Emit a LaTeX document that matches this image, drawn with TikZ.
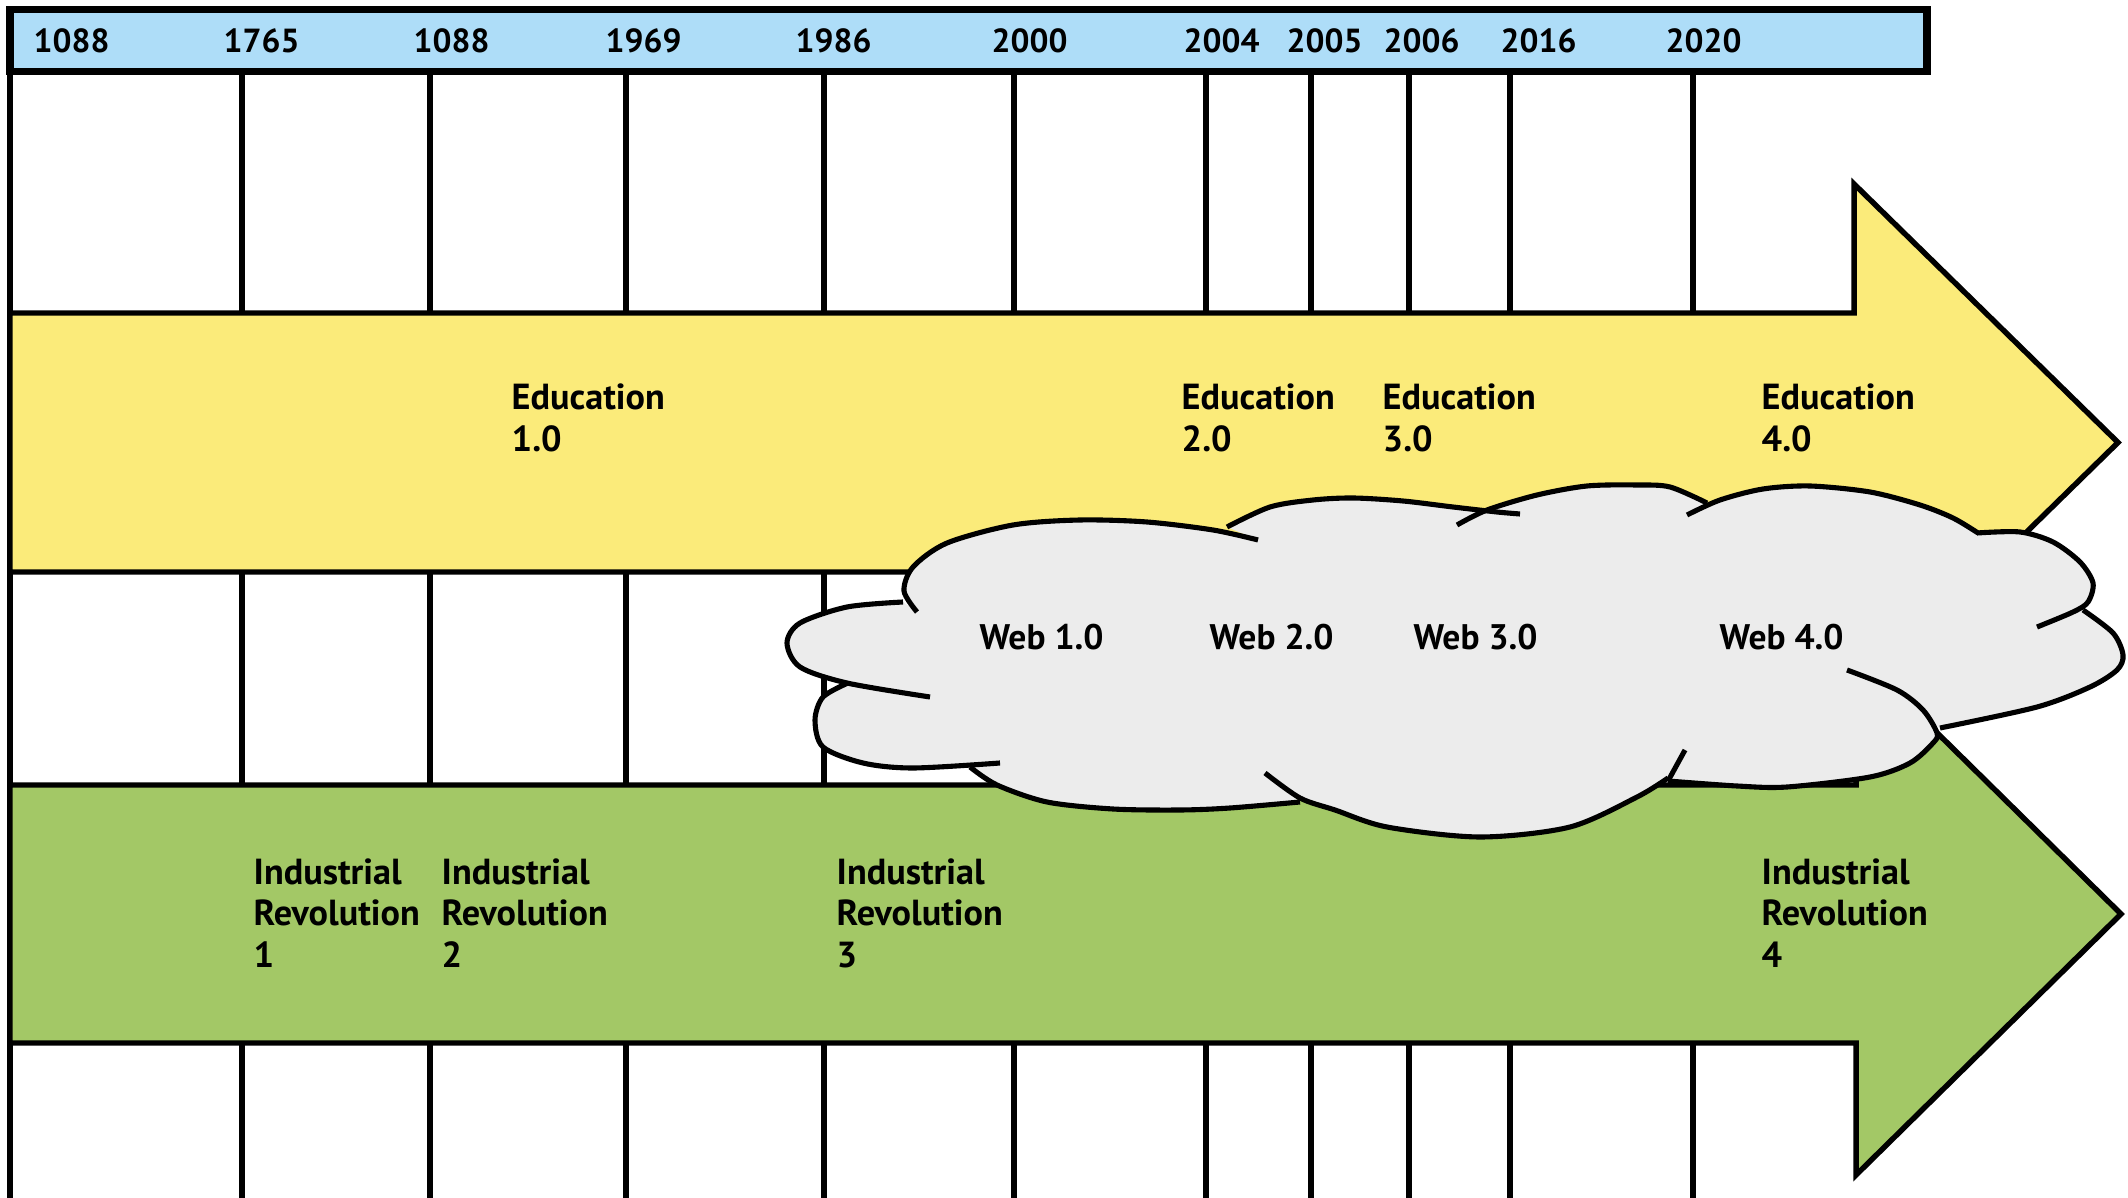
\documentclass[tikz,border=0pt]{standalone}
\usepackage{fontspec}
\setmainfont{PT Sans}
\definecolor{hdrblue}{RGB}{174,221,248}
\definecolor{eduyellow}{RGB}{251,235,122}
\definecolor{indgreen}{RGB}{163,200,102}
\definecolor{cloudgrey}{RGB}{236,236,236}
\newcommand\twolines[2]{\vtop{\baselineskip=11.86pt\lineskiplimit=-20pt\hbox{#1}\hbox{#2}}}
\newcommand\threelines[3]{\vtop{\baselineskip=11.86pt\lineskiplimit=-20pt\hbox{#1}\hbox{#2}\hbox{#3}}}
\begin{document}
\begin{tikzpicture}[x=0.01cm,y=-0.01cm,
  vline/.style={line width=1.55pt},
  arrowshape/.style={line width=1.55pt, line join=miter},
  cloudline/.style={line width=1.45pt, line cap=butt},
  yearlbl/.style={anchor=base west, inner sep=0pt, font=\fontsize{9.5}{11.86}\selectfont\bfseries},
  lbl/.style={anchor=base west, inner sep=0pt, font=\fontsize{10.3}{11.86}\selectfont\bfseries},
  weblbl/.style={anchor=base west, inner sep=0pt, font=\fontsize{10.1}{11.86}\selectfont\bfseries},
]
\useasboundingbox (0,0) rectangle (2128,1198);
% grid lines
\foreach \x in {242,430,626,824,1014,1206,1311,1409,1510,1693}
  \draw[vline] (\x,72) -- (\x,1198);
\draw[vline] (10,72) -- (10,1198);
% header
\draw[fill=hdrblue, line width=2.1pt] (10,9.5) rectangle (1927,71.5);
% arrows
\draw[arrowshape, fill=eduyellow] (10,313) -- (1854,313) -- (1854,184) -- (2118,442.5)
  -- (1854,701) -- (1854,572) -- (10,572) -- cycle;
\draw[arrowshape, fill=indgreen] (10,785) -- (1856,785) -- (1856,653) -- (2121,914)
  -- (1856,1175) -- (1856,1043) -- (10,1043) -- cycle;
% cloud fill (one path)
\fill[cloudgrey]
  plot[smooth] coordinates {(903,602) (847,607) (800,623) (787,643) (800,667) (847,683) (930,697)}
  -- plot[smooth] coordinates {(848,683) (823,697) (815,720) (823,747) (863,763) (913,768) (1000,763)}
  -- plot[smooth] coordinates {(970,767) (997,785) (1047,802) (1113,809) (1180,810) (1230,808) (1300,802)}
  -- plot[smooth] coordinates {(1265,773) (1300,798) (1335,810) (1387,827) (1480,837) (1570,827) (1637,797) (1668,778)}
  -- (1685,750)
  -- plot[smooth] coordinates {(1668,781) (1737,786) (1787,787) (1870,777) (1910,763) (1933,743) (1937,733) (1923,710) (1897,690) (1847,670)}
  -- plot[smooth] coordinates {(1940,728) (2037,707) (2090,687) (2117,670) (2123,655) (2113,633) (2083,610)}
  -- plot[smooth] coordinates {(2037,627) (2073,612) (2088,602) (2093,583) (2080,562) (2053,542) (2020,532) (1977,533)}
  -- plot[smooth] coordinates {(1978,533) (1953,518) (1920,505) (1870,492) (1810,486) (1763,489) (1720,500) (1687,515)}
  -- plot[smooth] coordinates {(1707,503) (1670,487) (1637,485) (1587,486) (1537,495) (1487,510) (1457,525)}
  -- plot[smooth] coordinates {(1520,514) (1497,512) (1453,507) (1403,501) (1353,498) (1313,500) (1270,507) (1227,527)}
  -- plot[smooth] coordinates {(1258,540) (1213,530) (1147,522) (1080,520) (1013,525) (947,543) (913,567) (904,591) (917,612)}
  -- cycle;
% cloud strokes
\draw[cloudline] plot[smooth] coordinates {(917,612) (904,591) (913,567) (947,543) (1013,525) (1080,520) (1147,522) (1213,530) (1258,540)};
\draw[cloudline] plot[smooth] coordinates {(903,602) (847,607) (800,623) (787,643) (800,667) (847,683) (930,697)};
\draw[cloudline] plot[smooth] coordinates {(848,683) (823,697) (815,720) (823,747) (863,763) (913,768) (1000,763)};
\draw[cloudline] plot[smooth] coordinates {(970,767) (997,785) (1047,802) (1113,809) (1180,810) (1230,808) (1300,802)};
\draw[cloudline] plot[smooth] coordinates {(1265,773) (1300,798) (1335,810) (1387,827) (1480,837) (1570,827) (1637,797) (1668,778)};
\draw[cloudline] (1685,750) -- (1668,781);
\draw[cloudline] plot[smooth] coordinates {(1668,781) (1737,786) (1787,787) (1870,777) (1910,763) (1933,743) (1937,733) (1923,710) (1897,690) (1847,670)};
\draw[cloudline] plot[smooth] coordinates {(1940,728) (2037,707) (2090,687) (2117,670) (2123,655) (2113,633) (2083,610)};
\draw[cloudline] plot[smooth] coordinates {(1977,533) (2020,532) (2053,542) (2080,562) (2093,583) (2088,602) (2073,612) (2037,627)};
\draw[cloudline] plot[smooth] coordinates {(1687,515) (1720,500) (1763,489) (1810,486) (1870,492) (1920,505) (1953,518) (1978,533)};
\draw[cloudline] plot[smooth] coordinates {(1457,525) (1487,510) (1537,495) (1587,486) (1637,485) (1670,487) (1707,503)};
\draw[cloudline] plot[smooth] coordinates {(1227,527) (1270,507) (1313,500) (1353,498) (1403,501) (1453,507) (1497,512) (1520,514)};
% years
\node[yearlbl] (y1) at (33,52.5) {1088};
\node[yearlbl] (y2) at (223,52.5) {1765};
\node[yearlbl] (y3) at (413,52.5) {1088};
\node[yearlbl] (y4) at (605,52.5) {1969};
\node[yearlbl] (y5) at (795,52.5) {1986};
\node[yearlbl] (y6) at (991,52.5) {2000};
\node[yearlbl] (y7) at (1183,52.5) {2004};
\node[yearlbl] (y8) at (1286,52.5) {2005};
\node[yearlbl] (y9) at (1383,52.5) {2006};
\node[yearlbl] (y10) at (1500,52.5) {2016};
\node[yearlbl] (y11) at (1665,52.5) {2020};
% education
\node[lbl] (e1) at (511,410) {\twolines{Education}{1.0}};
\node[lbl] (e2) at (1181,410) {\twolines{Education}{2.0}};
\node[lbl] (e3) at (1382,410) {\twolines{Education}{3.0}};
\node[lbl] (e4) at (1761,410) {\twolines{Education}{4.0}};
% web
\node[weblbl] (w1) at (979,650) {Web 1.0};
\node[weblbl] (w2) at (1209,650) {Web 2.0};
\node[weblbl] (w3) at (1413,650) {Web 3.0};
\node[weblbl] (w4) at (1719,650) {Web 4.0};
% industrial
\node[lbl] (i1) at (253,884) {\threelines{Industrial}{Revolution}{1}};
\node[lbl] (i2) at (441,884) {\threelines{Industrial}{Revolution}{2}};
\node[lbl] (i3) at (836,884) {\threelines{Industrial}{Revolution}{3}};
\node[lbl] (i4) at (1761,884) {\threelines{Industrial}{Revolution}{4}};
\end{tikzpicture}
\end{document}
